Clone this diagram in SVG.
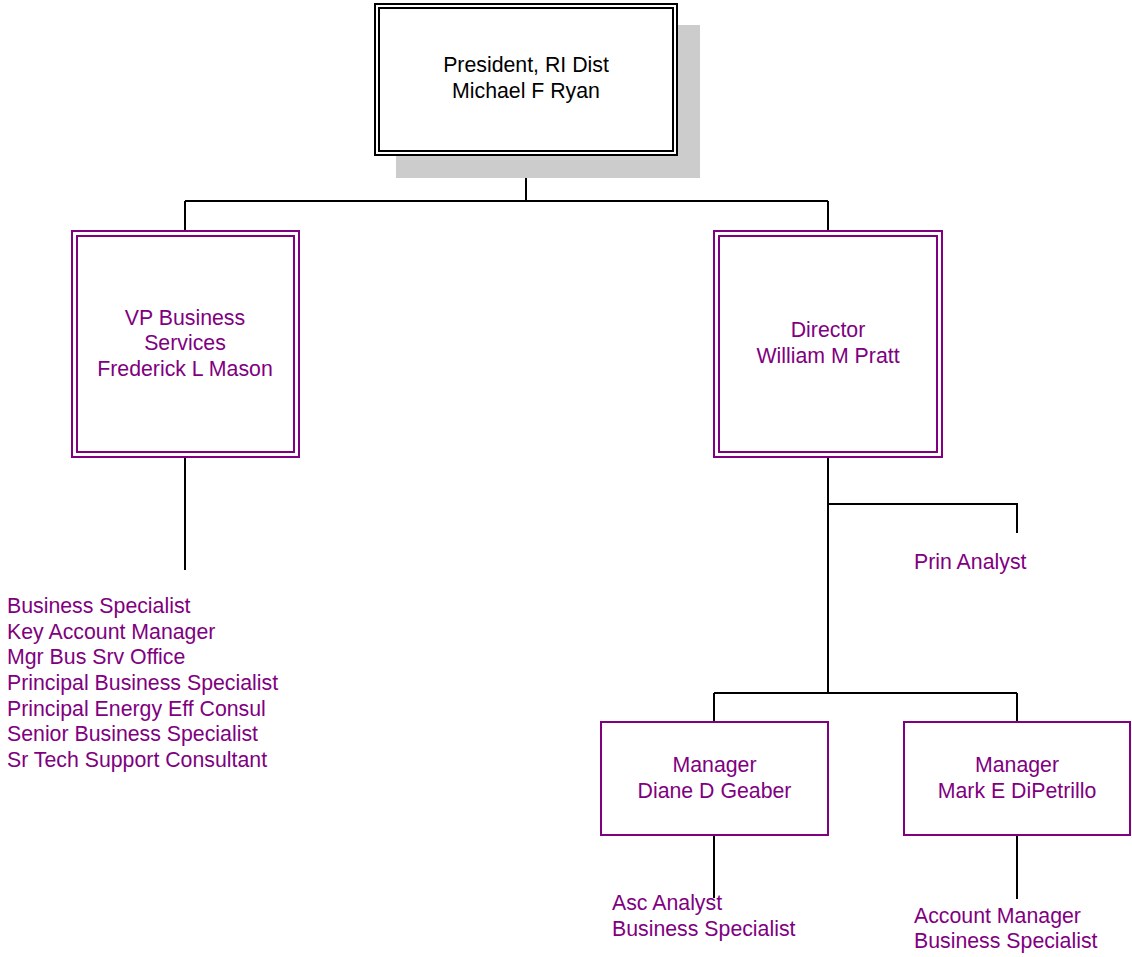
<svg xmlns="http://www.w3.org/2000/svg" width="1132" height="957" viewBox="0 0 1132 957">
<style>
text{font-family:"Liberation Sans",Arial,sans-serif;font-size:21.3px;fill:#800080}
.c{text-anchor:middle}
.k{fill:#000}
.bx{fill:#fff;stroke:#800080;stroke-width:2}
.in{fill:none;stroke:#800080;stroke-width:2}
.bk{fill:#fff;stroke:#000;stroke-width:2}
.bki{fill:none;stroke:#000;stroke-width:2}
#connectors path{fill:none;stroke:#000;stroke-width:2}
</style>
<rect width="1132" height="957" fill="#fff"/>
<g id="connectors">
<path d="M526 155V201M185 201H828M185 201V230M828 201V230"/>
<path d="M185 457V570"/>
<path d="M828 457V693M828 504H1017V533M714 693H1017M714 693V722M1017 693V722"/>
<path d="M714 835V898M1017 835V899"/>
</g>
<g id="president">
<rect x="396" y="25" width="304" height="153" fill="#cccccc"/>
<rect class="bk" x="375" y="4" width="302" height="151"/>
<rect class="bki" x="379" y="8" width="294" height="143"/>
<text class="c k" x="526" y="72">President, RI Dist</text>
<text class="c k" x="526" y="98">Michael F Ryan</text>
</g>
<g id="vp">
<rect class="bx" x="72" y="231" width="227" height="226"/>
<rect class="in" x="77" y="236" width="217" height="216"/>
<text class="c" x="185" y="325">VP Business</text>
<text class="c" x="185" y="350">Services</text>
<text class="c" x="185" y="376">Frederick L Mason</text>
</g>
<g id="vp-staff">
<text x="7" y="613">Business Specialist</text>
<text x="7" y="639">Key Account Manager</text>
<text x="7" y="664">Mgr Bus Srv Office</text>
<text x="7" y="690">Principal Business Specialist</text>
<text x="7" y="716">Principal Energy Eff Consul</text>
<text x="7" y="741">Senior Business Specialist</text>
<text x="7" y="767">Sr Tech Support Consultant</text>
</g>
<g id="director">
<rect class="bx" x="714" y="231" width="228" height="226"/>
<rect class="in" x="719" y="236" width="218" height="216"/>
<text class="c" x="828" y="337">Director</text>
<text class="c" x="828" y="363">William M Pratt</text>
</g>
<g id="prin-analyst">
<text x="914" y="569">Prin Analyst</text>
</g>
<g id="manager-geaber">
<rect class="bx" x="601" y="722" width="227" height="113"/>
<text class="c" x="714.5" y="772">Manager</text>
<text class="c" x="714.5" y="798">Diane D Geaber</text>
</g>
<g id="geaber-staff">
<text x="612" y="910">Asc Analyst</text>
<text x="612" y="936">Business Specialist</text>
</g>
<g id="manager-dipetrillo">
<rect class="bx" x="904" y="722" width="226" height="113"/>
<text class="c" x="1017" y="772">Manager</text>
<text class="c" x="1017" y="798">Mark E DiPetrillo</text>
</g>
<g id="dipetrillo-staff">
<text x="914" y="923">Account Manager</text>
<text x="914" y="948">Business Specialist</text>
</g>
</svg>
